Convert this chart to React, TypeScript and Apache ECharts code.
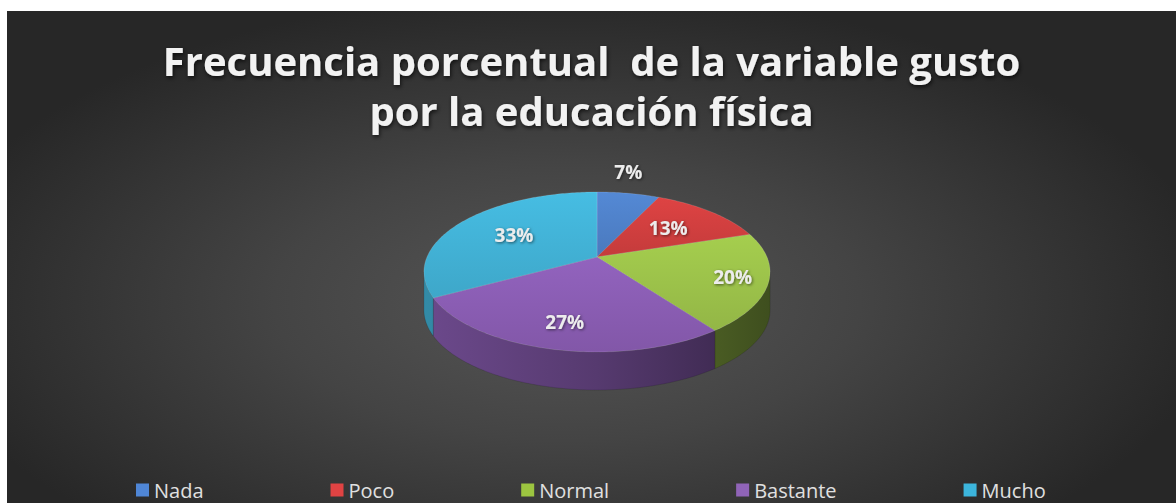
import React, { useEffect, useRef } from "react";
import * as echarts from "echarts";

// ---- data ----
const categories = ["Nada", "Poco", "Normal", "Bastante", "Mucho"];
const values = [7, 13, 20, 27, 33];
const titleLines = ["Frecuencia porcentual  de la variable gusto", "por la educación física"];

// ---- style / layout ----
const topColors = ["#4f81c9", "#d13f3f", "#9cc24a", "#8a5db3", "#42b2d6"];
const legendColors = ["#4f86d6", "#e04343", "#9cc540", "#9064b8", "#3cb5dc"];
const labelPlacement = [
  { r: 1.0, dy: -21 },
  { r: 0.6, dy: 0 },
  { r: 0.8, dy: 0 },
  { r: 0.75, dy: 0 },
  { r: 0.6, dy: 0 },
];

const CX = 590;
const APEX_Y = 246;
const SX = 170;
const SY = 77.2;
const K = -0.1875;
const DEPTH = 38;

function shade(hex: string, f: number): string {
  const n = parseInt(hex.slice(1), 16);
  const ch = (v: number) => Math.max(0, Math.min(255, Math.round(v * f)));
  const r = ch((n >> 16) & 255), g = ch((n >> 8) & 255), b = ch(n & 255);
  return "#" + ((1 << 24) + (r << 16) + (g << 8) + b).toString(16).slice(1);
}

function project(theta: number, r: number, dy = 0): number[] {
  const u = r * Math.sin(theta);
  const v = -r * Math.cos(theta);
  const d = 1 + K * v;
  return [CX + (SX * u) / d, APEX_Y + (SY * v) / d + dy];
}

function arc(a: number, b: number, dy = 0): number[][] {
  const pts: number[][] = [];
  const steps = Math.max(2, Math.ceil(((b - a) * 180) / Math.PI));
  for (let s = 0; s <= steps; s++) pts.push(project(a + ((b - a) * s) / steps, 1, dy));
  return pts;
}

const total = values.reduce((s, v) => s + v, 0);
const starts: number[] = [];
{
  let acc = 0;
  for (const v of values) {
    starts.push((acc / total) * Math.PI * 2);
    acc += v;
  }
}

const TA = Math.acos(K);
const TB = Math.PI * 2 - TA;

function makeSeries(i: number): any {
  return {
    type: "custom",
    name: categories[i],
    coordinateSystem: "none",
    data: [[values[i]]],
    itemStyle: { color: legendColors[i] },
    silent: true,
    renderItem: () => {
      const a = starts[i];
      const b = a + (values[i] / total) * Math.PI * 2;
      const c = topColors[i];
      const children: any[] = [];
      const s = Math.max(a, TA);
      const e = Math.min(b, TB);
      if (s < e) {
        const top = arc(s, e);
        const bottom = arc(s, e, DEPTH).reverse();
        children.push({
          type: "polygon",
          z2: 1,
          shape: { points: top.concat(bottom) },
          style: {
            fill: new echarts.graphic.LinearGradient(
              CX - SX * 1.03, 0, CX + SX * 1.03, 0,
              [
                { offset: 0, color: shade(c, 0.78) },
                { offset: 0.5, color: shade(c, 0.62) },
                { offset: 1, color: shade(c, 0.4) },
              ],
              true
            ),
            stroke: "rgba(0,0,0,0.25)",
            lineWidth: 0.5,
          },
        });
      }
      const apex = [CX, APEX_Y];
      children.push({
        type: "polygon",
        z2: 2,
        shape: { points: [apex].concat(arc(a, b)) },
        style: {
          fill: new echarts.graphic.LinearGradient(0, 0, 0, 1, [
            { offset: 0, color: shade(c, 1.06) },
            { offset: 1, color: shade(c, 0.94) },
          ]),
          stroke: "rgba(255,255,255,0.22)",
          lineWidth: 0.6,
        },
      });
      const mid = (a + b) / 2;
      const lp = labelPlacement[i];
      const p = project(mid, lp.r, lp.dy);
      children.push({
        type: "text",
        z2: 100,
        x: p[0],
        y: p[1],
        style: {
          text: Math.round((values[i] / total) * 100) + "%",
          fill: "#ececec",
          fontFamily: "Open Sans",
          fontWeight: "bold",
          fontSize: 19,
          align: "center",
          verticalAlign: "middle",
          textShadowColor: "rgba(0,0,0,0.55)",
          textShadowBlur: 3,
          textShadowOffsetX: 1,
          textShadowOffsetY: 1,
        },
      });
      return { type: "group", children };
    },
  };
}

export default function App() {
  const ref = useRef<HTMLDivElement>(null);
  useEffect(() => {
    if (!ref.current) return;
    const chart = echarts.init(ref.current, null, { renderer: "svg" });
    chart.setOption({
      animation: false,
      backgroundColor: "#272727",
      graphic: [
        {
          type: "circle",
          silent: true,
          z: -10,
          x: 560,
          y: 290,
          scaleX: 2.1,
          scaleY: 1,
          shape: { cx: 0, cy: 0, r: 310 },
          style: {
            fill: new echarts.graphic.RadialGradient(0.5, 0.5, 0.5, [
              { offset: 0, color: "#565656" },
              { offset: 0.45, color: "#444444" },
              { offset: 1, color: "#272727" },
            ]),
          },
        },
      ],
      title: {
        text: titleLines.join("\n"),
        left: "center",
        top: 24,
        padding: [0, 0, 0, 10],
        textStyle: {
          fontFamily: "Open Sans",
          fontWeight: "bold",
          fontSize: 40,
          lineHeight: 50,
          color: "#f2f2f2",
          align: "center",
          textShadowColor: "rgba(0,0,0,0.7)",
          textShadowBlur: 4,
          textShadowOffsetX: 1,
          textShadowOffsetY: 2,
        },
      },
      legend: {
        left: 129,
        top: 469,
        padding: 0,
        itemWidth: 13,
        itemHeight: 13,
        itemGap: 127,
        icon: "rect",
        selectedMode: false,
        data: categories.map((n, i) => ({ name: n, itemStyle: { color: legendColors[i] } })),
        textStyle: { color: "#e0e0e0", fontFamily: "Open Sans", fontSize: 20 },
      },
      series: categories.map((_, i) => makeSeries(i)),
    });
    return () => chart.dispose();
  }, []);
  return (
    <div
      ref={ref}
      style={{ position: "absolute", left: 7, top: 11, width: 1169, height: 492 }}
    />
  );
}
